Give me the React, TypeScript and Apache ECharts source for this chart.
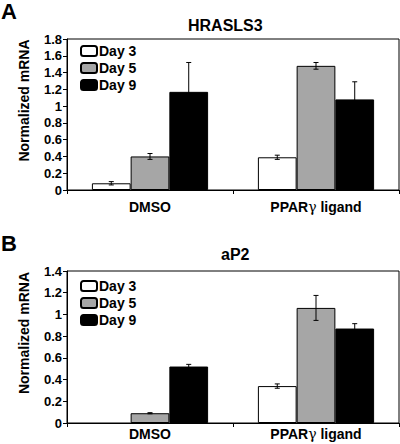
import React, { useEffect, useRef } from "react";
import * as echarts from "echarts";

const categories = ["DMSO", "PPARγ ligand"];
const seriesNames = ["Day 3", "Day 5", "Day 9"];
const colors = ["#ffffff", "#a6a6a6", "#000000"];
const yName = "Normalized mRNA";

// Panel A: HRASLS3
const aDay3 = [0.08, 0.39];
const aDay5 = [0.4, 1.48];
const aDay9 = [1.17, 1.08];
const aErr3 = [0.02, 0.025];
const aErr5 = [0.035, 0.04];
const aErr9 = [0.35, 0.21];

// Panel B: aP2
const bDay3 = [null, 0.34];
const bDay5 = [0.09, 1.06];
const bDay9 = [0.52, 0.87];
const bErr3 = [null, 0.02];
const bErr5 = [0.005, 0.115];
const bErr9 = [0.02, 0.045];

const FONT = "'Liberation Sans', Arial, sans-serif";

function errData(vals: (number | null)[][], errs: (number | null)[][]) {
  const out: number[][] = [];
  vals.forEach((arr, s) => {
    arr.forEach((v, c) => {
      const e = errs[s][c];
      if (v == null || e == null) return;
      out.push([c, s, v - e, v + e]);
    });
  });
  return out;
}

const renderErr = (params: any, api: any) => {
  const c = api.value(0);
  const s = api.value(1);
  const lo = api.value(2);
  const hi = api.value(3);
  const band = api.size([1, 0])[0];
  const bw = (band * 0.7) / 3;
  const pHi = api.coord([c, hi]);
  const pLo = api.coord([c, lo]);
  const x = pHi[0] + (s - 1) * bw;
  const cap = 2.5;
  const style = { stroke: "#000", lineWidth: 1 };
  return {
    type: "group",
    children: [
      { type: "line", shape: { x1: x, y1: pHi[1], x2: x, y2: pLo[1] }, style },
      { type: "line", shape: { x1: x - cap, y1: pHi[1], x2: x + cap, y2: pHi[1] }, style },
      { type: "line", shape: { x1: x - cap, y1: pLo[1], x2: x + cap, y2: pLo[1] }, style },
    ],
  };
};

export default function App() {
  const ref = useRef<HTMLDivElement>(null);
  useEffect(() => {
    if (!ref.current) return;
    const chart = echarts.init(ref.current, null, { renderer: "svg" });
    const axisText = { color: "#000", fontWeight: "bold" as const, fontFamily: FONT };
    const mkX = (gi: number, margin: number) => ({
      type: "category" as const,
      gridIndex: gi,
      data: categories,
      axisLine: { lineStyle: { color: "#000", width: 1 } },
      axisTick: { show: true, length: 4, lineStyle: { color: "#000" } },
      axisLabel: {
        ...axisText,
        fontSize: 14,
        lineHeight: 14,
        margin,
        formatter: (v: string) => v.replace("γ", "{g|γ}"),
        rich: { g: { fontSize: 14, lineHeight: 14, fontWeight: "normal", fontFamily: "'DejaVu Serif', serif", color: "#000" } },
      },
    });
    const mkY = (gi: number, max: number) => ({
      type: "value" as const,
      gridIndex: gi,
      min: 0,
      max,
      interval: 0.2,
      name: yName,
      nameLocation: "middle" as const,
      nameGap: 36,
      nameTextStyle: { ...axisText, fontSize: 14, padding: [0, 0, 0, 28] },
      splitLine: { show: false },
      axisLine: { show: true, lineStyle: { color: "#000", width: 1 } },
      axisTick: { show: true, length: 4, lineStyle: { color: "#000" } },
      axisLabel: { ...axisText, fontSize: 13, margin: 5 },
    });
    const barSeries = (gi: number, data: (number | null)[][]) =>
      data.map((d, i) => ({
        name: seriesNames[i],
        type: "bar" as const,
        xAxisIndex: gi,
        yAxisIndex: gi,
        data: d,
        barGap: "0%",
        barCategoryGap: "30%",
        itemStyle: { color: colors[i], borderColor: "#000", borderWidth: 1 },
      }));
    const errSeries = (gi: number, data: number[][]) => ({
      type: "custom" as const,
      xAxisIndex: gi,
      yAxisIndex: gi,
      renderItem: renderErr,
      encode: { x: 0, y: [2, 3] },
      data,
      z: 10,
      silent: true,
    });
    const legendCfg = (top: number) => ({
      orient: "vertical" as const,
      left: 80,
      top,
      padding: 0,
      itemWidth: 16,
      itemHeight: 10,
      itemGap: 3,
      data: seriesNames,
      textStyle: { ...axisText, fontSize: 14, lineHeight: 14, padding: [0, 0, 0, -3] },
    });
    const titleEl = (left: number, top: number, text: string, size: number) => ({
      text,
      left,
      top,
      padding: 0,
      textStyle: { ...axisText, fontSize: size, lineHeight: size },
    });
    chart.setOption({
      animation: false,
      backgroundColor: "#fff",
      title: [
        titleEl(1, 0, "A", 22),
        titleEl(1, 232, "B", 22),
        titleEl(188, 17, "HRASLS3", 16),
        titleEl(221, 246, "aP2", 16),
      ],
      grid: [
        { left: 67, top: 39, width: 332, height: 151, show: true, borderColor: "#000", borderWidth: 1, backgroundColor: "transparent" },
        { left: 67, top: 271, width: 332, height: 152, show: true, borderColor: "#000", borderWidth: 1, backgroundColor: "transparent" },
      ],
      xAxis: [mkX(0, 10), mkX(1, 4)],
      yAxis: [mkY(0, 1.8), mkY(1, 1.4)],
      legend: [legendCfg(44), legendCfg(279)],
      series: [
        ...barSeries(0, [aDay3, aDay5, aDay9]),
        errSeries(0, errData([aDay3, aDay5, aDay9], [aErr3, aErr5, aErr9])),
        ...barSeries(1, [bDay3, bDay5, bDay9]),
        errSeries(1, errData([bDay3, bDay5, bDay9], [bErr3, bErr5, bErr9])),
      ],
    });
    return () => chart.dispose();
  }, []);
  return <div ref={ref} style={{ position: "absolute", left: 0, top: 0, width: 400, height: 444 }} />;
}
